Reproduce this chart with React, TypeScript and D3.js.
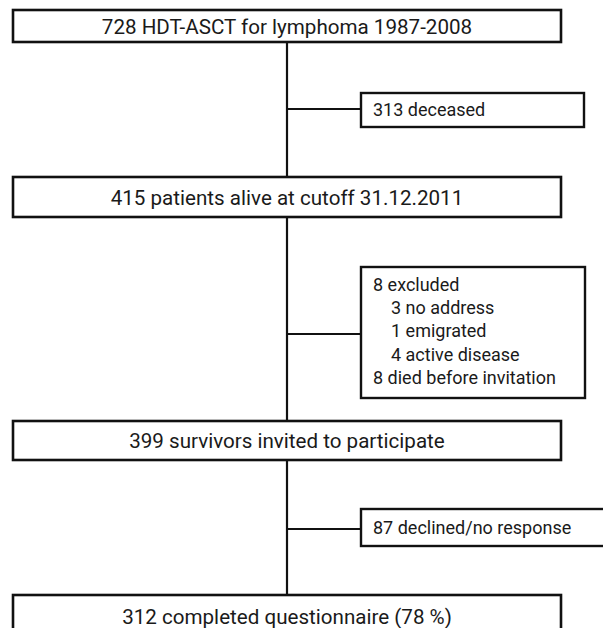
import React, { useEffect, useRef } from 'react';
import * as d3 from 'd3';

// main flow boxes (top to bottom)
const mainLabels = [
  '728 HDT-ASCT for lymphoma 1987-2008',
  '415 patients alive at cutoff 31.12.2011',
  '399 survivors invited to participate',
  '312 completed questionnaire (78 %)',
];
const mainTops = [10, 177, 421, 595];
const mainBottoms = [42, 217, 460, 645];

// side boxes (exclusions)
const sideLines = [
  [{ text: '313 deceased', indent: 0 }],
  [
    { text: '8 excluded', indent: 0 },
    { text: '3 no address', indent: 1 },
    { text: '1 emigrated', indent: 1 },
    { text: '4 active disease', indent: 1 },
    { text: '8 died before invitation', indent: 0 },
  ],
  [{ text: '87 declined/no response', indent: 0 }],
];
const sideTops = [93, 267, 509];
const sideBottoms = [127, 398, 546];
const sideRights = [584, 585, 615];
const sideLinkY = [109, 334, 529];

const W = 603;
const H = 628;

const App = () => {
  const ref = useRef<SVGSVGElement>(null);

  useEffect(() => {
    document.body.style.margin = '0';
    const svg = d3.select(ref.current);
    svg.selectAll('*').remove();

    const mainLeft = 13;
    const mainRight = 561;
    const cx = 287;
    const sideLeft = 361;
    const font = 'Roboto, "Liberation Sans", sans-serif';

    // vertical spine between main boxes
    for (let i = 0; i < mainLabels.length - 1; i++) {
      svg.append('line')
        .attr('x1', cx).attr('x2', cx)
        .attr('y1', mainBottoms[i]).attr('y2', mainTops[i + 1])
        .attr('stroke', '#111').attr('stroke-width', 2.2);
    }

    // main boxes
    mainLabels.forEach((label, i) => {
      svg.append('rect')
        .attr('x', mainLeft).attr('y', mainTops[i])
        .attr('width', mainRight - mainLeft)
        .attr('height', mainBottoms[i] - mainTops[i])
        .attr('fill', 'white').attr('stroke', '#111').attr('stroke-width', 2.6);
      const baseline = i === 3 ? mainTops[i] + 29 : (mainTops[i] + mainBottoms[i]) / 2 + 7.5;
      svg.append('text')
        .attr('x', cx).attr('y', baseline)
        .attr('text-anchor', 'middle')
        .attr('font-family', font).attr('font-size', 20.6)
        .attr('fill', '#1a1a1a')
        .text(label);
    });

    // side boxes with connectors
    sideLines.forEach((lines, i) => {
      const top = sideTops[i];
      const bottom = sideBottoms[i];
      svg.append('line')
        .attr('x1', cx).attr('x2', sideLeft)
        .attr('y1', sideLinkY[i]).attr('y2', sideLinkY[i])
        .attr('stroke', '#111').attr('stroke-width', 2.2);
      svg.append('rect')
        .attr('x', sideLeft).attr('y', top)
        .attr('width', sideRights[i] - sideLeft)
        .attr('height', bottom - top)
        .attr('fill', 'white').attr('stroke', '#111').attr('stroke-width', 2.4);

      const y = d3.scaleLinear().domain([0, 1]).range([0, 23.2]);
      const first = lines.length === 1 ? (top + bottom) / 2 + 6 : top + 24;
      lines.forEach((ln, j) => {
        svg.append('text')
          .attr('x', sideLeft + 12 + ln.indent * 18)
          .attr('y', first + y(j))
          .attr('font-family', font).attr('font-size', 18)
          .attr('fill', '#1a1a1a')
          .text(ln.text);
      });
    });
  }, []);

  return (
    <svg ref={ref} width={W} height={H} style={{ display: 'block', background: 'white' }} />
  );
};

export default App;
